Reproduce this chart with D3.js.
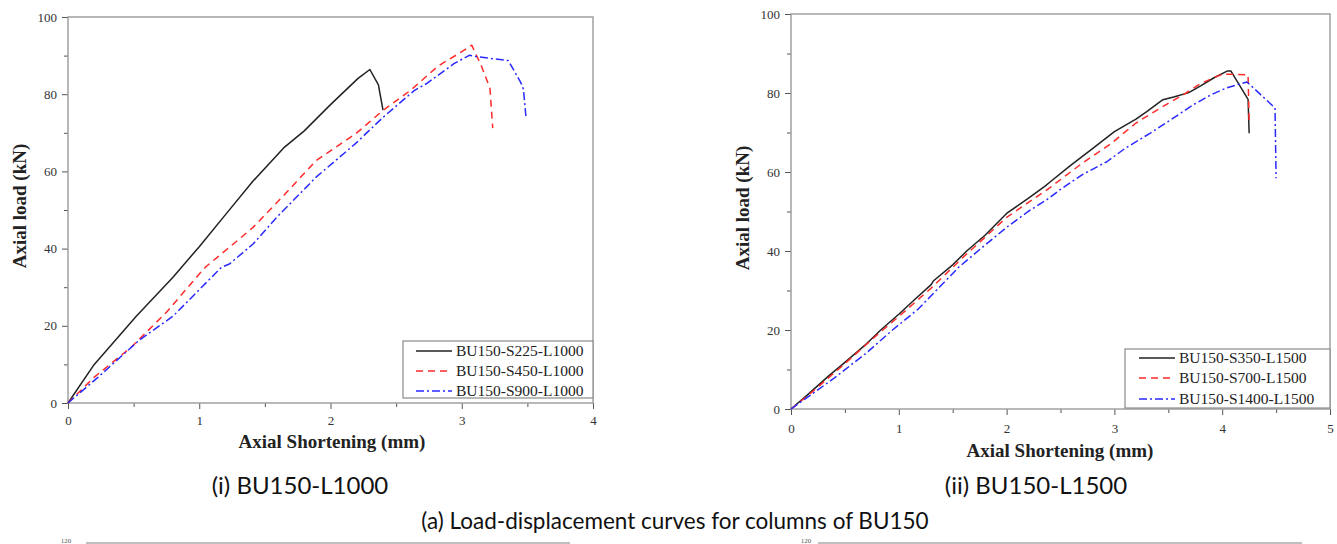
<!DOCTYPE html>
<html>
<head>
<meta charset="utf-8">
<script src="https://cdn.jsdelivr.net/npm/d3@7"></script>
<style>
  html, body { margin: 0; padding: 0; background: #fff; }
  svg { display: block; }
</style>
</head>
<body>
<svg id="chart" width="1337" height="544"></svg>
<script>
// ---------- DATA ----------
// Chart (i) BU150-L1000 : [axial shortening (mm), axial load (kN)]
const seriesNamesL1000 = ["BU150-S225-L1000", "BU150-S450-L1000", "BU150-S900-L1000"];
const s225_L1000 = [[0,0],[0.2,10],[0.52,22.5],[0.8,32.6],[1.0,40.5],[1.2,48.8],[1.41,57.5],[1.65,66.3],[1.8,70.5],[2.0,77.3],[2.21,84.1],[2.3,86.4],[2.365,82.4],[2.4,75.9]];
const s450_L1000 = [[0,0],[0.2,6.7],[0.48,14.4],[0.75,23.5],[1.0,33.4],[1.05,35.3],[1.2,39.5],[1.41,45.5],[1.65,54],[1.89,62.8],[2.19,69.7],[2.4,75.8],[2.61,81],[2.82,87.3],[3.0,91],[3.076,92.7],[3.15,87.3],[3.215,81.5],[3.236,71.2]];
const s900_L1000 = [[0,0],[0.23,6.7],[0.54,16.2],[0.8,22.5],[0.99,29],[1.17,35.2],[1.23,36],[1.41,41.2],[1.59,48.1],[1.89,58.5],[2.19,67.2],[2.4,74],[2.64,81],[2.73,82.7],[2.94,87.9],[3.06,90.1],[3.12,89.7],[3.355,88.7],[3.45,83],[3.47,81.3],[3.49,73.8]];
const xTicksL1000 = [0,1,2,3,4];
const yTicksL1000 = [0,20,40,60,80,100];

// Chart (ii) BU150-L1500
const seriesNamesL1500 = ["BU150-S350-L1500", "BU150-S700-L1500", "BU150-S1400-L1500"];
const s350_L1500 = [[0,0],[0.15,3.5],[0.35,8.4],[0.5,11.8],[0.7,16.5],[0.84,20.2],[1.0,24],[1.15,27.8],[1.3,31.5],[1.32,32.4],[1.5,36.5],[1.63,40],[1.8,44],[2.0,49.5],[2.2,53.3],[2.36,56.5],[2.4,57.4],[2.6,61.8],[2.8,66],[3.0,70.2],[3.2,73.4],[3.3,75.3],[3.45,78.3],[3.55,79],[3.69,80.1],[3.8,81.8],[3.92,83.8],[4.05,85.6],[4.08,85.6],[4.24,78.4],[4.25,69.8]];
const s700_L1500 = [[0,0],[0.2,4.4],[0.5,11.5],[0.8,18.8],[1.0,23.4],[1.3,30.6],[1.6,38.5],[2.0,48.5],[2.4,56],[2.7,62.2],[2.96,67],[3.2,72.4],[3.33,74.6],[3.5,77.4],[3.64,79.6],[3.8,82.4],[3.95,84.2],[4.01,84.8],[4.24,84.6],[4.25,72.4]];
const s1400_L1500 = [[0,0],[0.39,7.6],[0.7,14.2],[0.95,20.2],[1.18,25.3],[1.4,31.5],[1.56,36],[1.8,41.5],[2.01,46.2],[2.2,50],[2.39,53.3],[2.5,55.6],[2.7,59.3],[2.93,62.6],[3.1,66],[3.33,69.8],[3.5,72.8],[3.73,77],[3.9,79.6],[4.04,81.3],[4.23,82.8],[4.49,76.2],[4.5,58.4]];
const xTicksL1500 = [0,1,2,3,4,5];
const yTicksL1500 = [0,20,40,60,80,100];

const captions = ["(i) BU150-L1000", "(ii) BU150-L1500"];
const figureCaption = "(a) Load-displacement curves for columns of BU150";
const xTitle = "Axial Shortening (mm)";
const yTitle = "Axial load (kN)";
const nextRowTickLabel = "120";

// ---------- STYLES ----------
const lineStyles = [
  { color: "#222222", dash: null },
  { color: "#ff2a2a", dash: "7,5" },
  { color: "#2a2aff", dash: "8,3,2,3" }
];

const svg = d3.select("#chart");

function drawChart(cfg) {
  const g = svg.append("g");
  const x = d3.scaleLinear().domain([0, cfg.xMax]).range([cfg.left, cfg.right]);
  const y = d3.scaleLinear().domain([0, 100]).range([cfg.bottom, cfg.top]);

  // minor ticks
  const xMinor = d3.range(0, cfg.xMax + 0.001, 0.5).filter(v => Math.abs(v - Math.round(v)) > 0.01);
  const yMinor = d3.range(10, 100, 20);
  g.append("g").attr("transform", `translate(0,${cfg.bottom})`)
    .call(d3.axisBottom(x).tickValues(xMinor).tickSize(4).tickFormat(""))
    .call(a => a.select(".domain").remove())
    .selectAll("line").attr("stroke", "#555");
  g.append("g").attr("transform", `translate(${cfg.left},0)`)
    .call(d3.axisLeft(y).tickValues(yMinor).tickSize(4).tickFormat(""))
    .call(a => a.select(".domain").remove())
    .selectAll("line").attr("stroke", "#555");

  // major ticks
  const xa = g.append("g").attr("transform", `translate(0,${cfg.bottom})`)
    .call(d3.axisBottom(x).tickValues(cfg.xTicks).tickSize(6).tickPadding(cfg.xPad).tickFormat(d3.format("d")));
  xa.select(".domain").remove();
  xa.selectAll("line").attr("stroke", "#555");
  xa.selectAll("text").attr("font-family", "'Liberation Serif', serif").attr("font-size", 13).attr("fill", "#333");

  const ya = g.append("g").attr("transform", `translate(${cfg.left},0)`)
    .call(d3.axisLeft(y).tickValues(cfg.yTicks).tickSize(6).tickPadding(5).tickFormat(d3.format("d")));
  ya.select(".domain").remove();
  ya.selectAll("line").attr("stroke", "#555");
  ya.selectAll("text").attr("font-family", "'Liberation Serif', serif").attr("font-size", 13).attr("fill", "#333");

  // frame
  g.append("rect")
    .attr("x", cfg.left).attr("y", cfg.top)
    .attr("width", cfg.right - cfg.left).attr("height", cfg.bottom - cfg.top)
    .attr("fill", "none").attr("stroke", "#9a9a9a").attr("stroke-width", 1.4);

  // lines
  const line = d3.line().x(d => x(d[0])).y(d => y(d[1]));
  cfg.series.forEach((s, i) => {
    g.append("path").datum(s)
      .attr("d", line)
      .attr("fill", "none")
      .attr("stroke", lineStyles[i].color)
      .attr("stroke-width", 1.5)
      .attr("stroke-dasharray", lineStyles[i].dash)
      .attr("stroke-linejoin", "round");
  });

  // legend
  const L = cfg.legend;
  g.append("rect")
    .attr("x", L.x0).attr("y", L.y0)
    .attr("width", L.x1 - L.x0).attr("height", L.y1 - L.y0)
    .attr("fill", "#fff").attr("stroke", "#8a8a8a").attr("stroke-width", 1.2);
  cfg.names.forEach((n, i) => {
    const yy = L.rows[i];
    g.append("line")
      .attr("x1", L.lx0).attr("x2", L.lx1).attr("y1", yy).attr("y2", yy)
      .attr("stroke", lineStyles[i].color).attr("stroke-width", 1.5)
      .attr("stroke-dasharray", lineStyles[i].dash);
    g.append("text")
      .attr("x", L.tx).attr("y", yy + 5)
      .attr("font-family", "'Liberation Serif', serif")
      .attr("font-size", 15.5).attr("fill", "#222")
      .text(n);
  });

  // axis titles
  g.append("text")
    .attr("x", cfg.xTitleX).attr("y", cfg.xTitleY)
    .attr("text-anchor", "middle")
    .attr("font-family", "'Liberation Serif', serif")
    .attr("font-weight", "bold").attr("font-size", 19).attr("fill", "#222")
    .text(xTitle);
  g.append("text")
    .attr("transform", `translate(${cfg.yTitleX},${cfg.yTitleY}) rotate(-90)`)
    .attr("text-anchor", "middle")
    .attr("font-family", "'Liberation Serif', serif")
    .attr("font-weight", "bold").attr("font-size", 19).attr("fill", "#222")
    .text(yTitle);

  // caption
  g.append("text")
    .attr("x", cfg.capX).attr("y", 494)
    .attr("text-anchor", "middle")
    .attr("font-family", "Lato, 'Open Sans', sans-serif")
    .attr("font-size", 24).attr("fill", "#111")
    .text(cfg.caption);
}

drawChart({
  xMax: 4, left: 68, right: 593, top: 17, bottom: 403,
  xTicks: xTicksL1000, yTicks: yTicksL1000, xPad: 7,
  series: [s225_L1000, s450_L1000, s900_L1000],
  names: seriesNamesL1000,
  legend: { x0: 403, x1: 593, y0: 341, y1: 398, rows: [351, 371, 391], lx0: 416, lx1: 452, tx: 456 },
  xTitleX: 332, xTitleY: 448, yTitleX: 26, yTitleY: 206,
  caption: captions[0], capX: 300
});

drawChart({
  xMax: 5, left: 791, right: 1330, top: 14, bottom: 409,
  xTicks: xTicksL1500, yTicks: yTicksL1500, xPad: 9,
  series: [s350_L1500, s700_L1500, s1400_L1500],
  names: seriesNamesL1500,
  legend: { x0: 1125, x1: 1330, y0: 349, y1: 408, rows: [358, 378, 399], lx0: 1139, lx1: 1175, tx: 1179 },
  xTitleX: 1060, xTitleY: 457, yTitleX: 749, yTitleY: 208,
  caption: captions[1], capX: 1036
});

// figure caption
svg.append("text")
  .attr("x", 675).attr("y", 529)
  .attr("text-anchor", "middle")
  .attr("font-family", "Lato, 'Open Sans', sans-serif")
  .attr("font-size", 22.5).attr("fill", "#111")
  .text(figureCaption);

// top edges of the next row of charts (cut off by the page)
const nextRowTop = [{ lx: 66, x0: 86, x1: 570 }, { lx: 806, x0: 818, x1: 1302 }];
nextRowTop.forEach(n => {
  svg.append("line").attr("x1", n.x0).attr("x2", n.x1).attr("y1", 543).attr("y2", 543)
    .attr("stroke", "#aaa").attr("stroke-width", 1.4);
  svg.append("text").attr("x", n.lx).attr("y", 543).attr("text-anchor", "middle")
    .attr("font-family", "'Liberation Serif', serif").attr("font-size", 7).attr("fill", "#555")
    .text(nextRowTickLabel);
});
</script>
</body>
</html>
